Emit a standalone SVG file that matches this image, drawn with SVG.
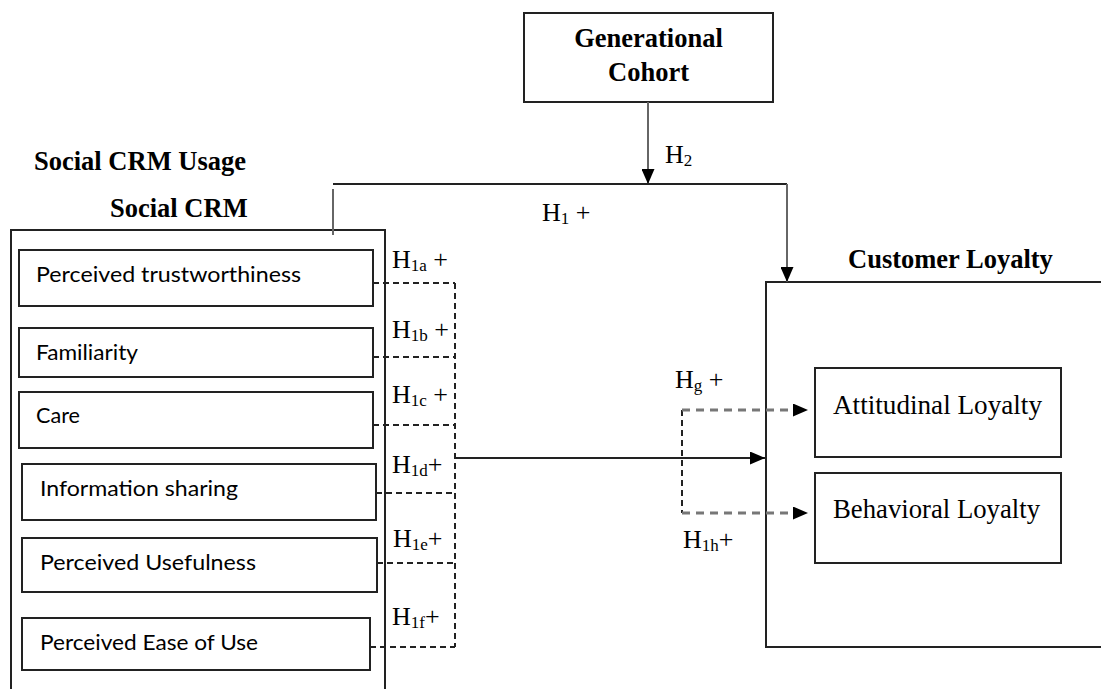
<svg xmlns="http://www.w3.org/2000/svg" width="1101" height="689" viewBox="0 0 1101 689">
<defs>
<style>
.box{fill:#fff;stroke:#222;stroke-width:2}
.ttl{font-family:"Liberation Serif","Times New Roman",serif;font-weight:bold;font-size:26.5px;fill:#000}
.srf{font-family:"Liberation Serif","Times New Roman",serif;font-size:27px;fill:#000}
.lbl{font-family:"Liberation Serif","Times New Roman",serif;font-size:26px;fill:#000}
.sub{font-size:17px}
.san{font-family:Lato,"Open Sans","Liberation Sans",sans-serif;font-size:22px;fill:#000}
.solid{fill:none;stroke:#222;stroke-width:2}
.gray{fill:none;stroke:#666;stroke-width:2}
.dash{fill:none;stroke:#222;stroke-width:2;stroke-dasharray:6,4}
.gdash{fill:none;stroke:#777;stroke-width:2.8;stroke-dasharray:8,6}
</style>
<marker id="arr" markerUnits="userSpaceOnUse" markerWidth="15" markerHeight="13" viewBox="0 0 15 13" refX="15" refY="6.5" orient="auto">
<path d="M0,0 L15,6.5 L0,13 Z" fill="#000"/>
</marker>
</defs>
<rect width="1101" height="689" fill="#fff"/>

<text class="ttl" x="34" y="170">Social CRM Usage</text>

<g id="social-crm">
<path class="solid" d="M11,690 V230 H385 V690"/>
<text class="ttl" x="110" y="217">Social CRM</text>
</g>

<g id="generational-cohort">
<rect class="box" x="524" y="13" width="249" height="89"/>
<text class="ttl" x="648.5" y="47" text-anchor="middle">Generational</text>
<text class="ttl" x="648.5" y="81" text-anchor="middle">Cohort</text>
</g>

<g id="perceived-trustworthiness">
<rect class="box" x="19" y="250" width="354" height="56"/>
<text class="san" x="36" y="282" textLength="265" lengthAdjust="spacingAndGlyphs">Perceived trustworthiness</text>
</g>
<g id="familiarity">
<rect class="box" x="19" y="328" width="354" height="49"/>
<text class="san" x="36" y="360" textLength="102" lengthAdjust="spacingAndGlyphs">Familiarity</text>
</g>
<g id="care">
<rect class="box" x="19" y="392" width="354" height="56"/>
<text class="san" x="36" y="423" textLength="44" lengthAdjust="spacingAndGlyphs">Care</text>
</g>
<g id="information-sharing">
<rect class="box" x="22" y="464" width="354" height="56"/>
<text class="san" x="40" y="496" textLength="198" lengthAdjust="spacingAndGlyphs">Information sharing</text>
</g>
<g id="perceived-usefulness">
<rect class="box" x="22" y="538" width="355" height="54"/>
<text class="san" x="40" y="570" textLength="216" lengthAdjust="spacingAndGlyphs">Perceived Usefulness</text>
</g>
<g id="perceived-ease-of-use">
<rect class="box" x="22" y="618" width="348" height="52"/>
<text class="san" x="40" y="650" textLength="218" lengthAdjust="spacingAndGlyphs">Perceived Ease of Use</text>
</g>

<g id="customer-loyalty">
<path class="solid" d="M1103,282 H766 V647 H1103"/>
<text class="ttl" x="848" y="268">Customer Loyalty</text>
</g>
<g id="attitudinal-loyalty">
<rect class="box" x="815" y="368" width="246" height="89"/>
<text class="srf" x="833" y="414" textLength="209" lengthAdjust="spacingAndGlyphs">Attitudinal Loyalty</text>
</g>
<g id="behavioral-loyalty">
<rect class="box" x="815" y="473" width="246" height="90"/>
<text class="srf" x="833" y="518" textLength="207" lengthAdjust="spacingAndGlyphs">Behavioral Loyalty</text>
</g>

<g id="connectors">
<path class="gray" d="M648,102 V184" marker-end="url(#arr)"/>
<path class="solid" d="M333,184 H787"/>
<path class="gray" d="M787,184 V282" marker-end="url(#arr)"/>
<path class="gray" d="M333,189 V235"/>
<path class="dash" d="M373,283 H455 M373,357 H455 M373,425 H455 M376,493 H455 M377,563 H455 M370,647 H455"/>
<path class="dash" d="M455,283 V647"/>
<path class="solid" d="M455,458 H765" marker-end="url(#arr)"/>
<path class="dash" d="M682,410 V513"/>
<path class="gdash" d="M682,410 H808" marker-end="url(#arr)"/>
<path class="gdash" d="M682,513 H808" marker-end="url(#arr)"/>
</g>

<g id="labels">
<text class="lbl" x="665" y="163">H<tspan class="sub" dy="3">2</tspan></text>
<text class="lbl" x="542" y="221">H<tspan class="sub" dy="3">1</tspan><tspan dy="-3"> +</tspan></text>
<text class="lbl" x="392" y="268">H<tspan class="sub" dy="3">1a</tspan><tspan dy="-3"> +</tspan></text>
<text class="lbl" x="392" y="338">H<tspan class="sub" dy="3">1b</tspan><tspan dy="-3"> +</tspan></text>
<text class="lbl" x="392" y="403">H<tspan class="sub" dy="3">1c</tspan><tspan dy="-3"> +</tspan></text>
<text class="lbl" x="392" y="473">H<tspan class="sub" dy="3">1d</tspan><tspan dy="-3">+</tspan></text>
<text class="lbl" x="393" y="547">H<tspan class="sub" dy="3">1e</tspan><tspan dy="-3">+</tspan></text>
<text class="lbl" x="392" y="625">H<tspan class="sub" dy="3">1f</tspan><tspan dy="-3">+</tspan></text>
<text class="lbl" x="675" y="388">H<tspan class="sub" dy="3">g</tspan><tspan dy="-3"> +</tspan></text>
<text class="lbl" x="683" y="548">H<tspan class="sub" dy="3">1h</tspan><tspan dy="-3">+</tspan></text>
</g>
</svg>
